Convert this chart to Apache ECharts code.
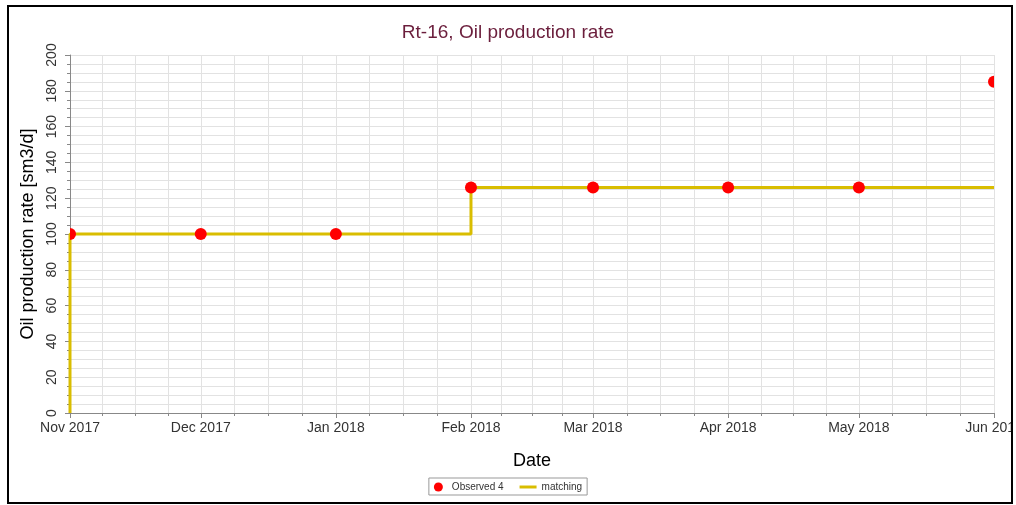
<!DOCTYPE html>
<html>
<head>
<meta charset="utf-8">
<script src="https://cdn.jsdelivr.net/npm/echarts@6/dist/echarts.min.js"></script>
<style>html,body{margin:0;padding:0;background:#fff}#c{width:1016px;height:505px}</style>
</head>
<body>
<div id="c"></div>
<script>
var observedDates = ['2017-11-01','2017-12-01','2018-01-01','2018-02-01','2018-03-01','2018-04-01','2018-05-01','2018-06-01'];
var observedValues = [100, 100, 100, 126, 126, 126, 126, 185];
var matchingDates = ['2017-11-01','2017-11-01','2018-02-01','2018-02-01','2018-06-01'];
var matchingValues = [0, 100, 100, 126, 126];
var monthNames = ['Jan','Feb','Mar','Apr','May','Jun','Jul','Aug','Sep','Oct','Nov','Dec'];

function pairs(d, v){ return d.map(function(x,i){ return [x, v[i]]; }); }

var chart = echarts.init(document.getElementById('c'));
var font = "'Liberation Sans', Arial, sans-serif";
chart.setOption({
  animation: false,
  textStyle: { fontFamily: font },
  title: {
    text: 'Rt-16, Oil production rate',
    left: 'center', top: 18,
    textStyle: { fontSize: 19, fontWeight: 'normal', color: '#6b1e3c', fontFamily: font }
  },
  grid: { left: 70, right: 22, top: 55, bottom: 92, containLabel: false, outerBoundsMode: 'none' },
  xAxis: {
    type: 'time',
    min: '2017-11-01', max: '2018-06-01',
    name: 'Date', nameLocation: 'middle', nameGap: 39,
    nameTextStyle: { fontSize: 18, color: '#000', fontFamily: font },
    axisLine: { lineStyle: { color: '#888', width: 1 } },
    axisTick: { show: true, length: 5, lineStyle: { color: '#888' } },
    minorTick: { show: true, splitNumber: 4, length: 3, lineStyle: { color: '#888' } },
    splitLine: { show: true, lineStyle: { color: '#e2e2e2', width: 1 } },
    minorSplitLine: { show: true, lineStyle: { color: '#e2e2e2', width: 1 } },
    axisLabel: {
      fontSize: 14, color: '#333', margin: 8, showMinLabel: true, showMaxLabel: true, hideOverlap: false,
      formatter: function(v){ var d = new Date(v); return monthNames[d.getMonth()] + ' ' + d.getFullYear(); }
    }
  },
  yAxis: {
    type: 'value', min: 0, max: 200, interval: 20,
    name: 'Oil production rate [sm3/d]', nameLocation: 'middle', nameGap: 31,
    nameTextStyle: { fontSize: 18, color: '#000', fontFamily: font },
    axisLine: { show: true, lineStyle: { color: '#888', width: 1 } },
    axisTick: { show: true, length: 5, lineStyle: { color: '#888' } },
    minorTick: { show: true, splitNumber: 4, length: 3, lineStyle: { color: '#888' } },
    splitLine: { show: true, lineStyle: { color: '#e2e2e2', width: 1 } },
    minorSplitLine: { show: true, lineStyle: { color: '#e2e2e2', width: 1 } },
    axisLabel: { fontSize: 14, color: '#333', rotate: 90, margin: 11 }
  },
  legend: {
    bottom: 10, left: 'center',
    borderColor: '#999', borderWidth: 1, padding: [4, 5, 3, 5],
    itemGap: 16, itemWidth: 17, itemHeight: 9,
    textStyle: { fontSize: 10, color: '#333', fontFamily: font },
    data: [
      { name: 'Observed 4', icon: 'circle', itemStyle: { color: '#ff0000' } },
      { name: 'matching', icon: 'path://M0,0 L20,0 L20,3.5 L0,3.5 Z', itemStyle: { color: '#d9bd00' } }
    ]
  },
  series: [
    {
      name: 'matching', type: 'line', data: pairs(matchingDates, matchingValues),
      symbol: 'none', lineStyle: { color: '#d9bd00', width: 3 }, itemStyle: { color: '#d9bd00' }, z: 2
    },
    {
      name: 'Observed 4', type: 'custom', data: pairs(observedDates, observedValues),
      encode: { x: 0, y: 1 }, clip: true, z: 3,
      itemStyle: { color: '#ff0000' },
      renderItem: function(params, api){
        var p = api.coord([api.value(0), api.value(1)]);
        return { type: 'circle', shape: { cx: p[0], cy: p[1], r: 6 }, style: { fill: '#ff0000' } };
      }
    }
  ],
  graphic: [
    { type: 'rect', z: 100, shape: { x: 1013, y: 0, width: 10, height: 505 }, style: { fill: '#fff' } },
    { type: 'rect', z: 101, shape: { x: 8, y: 6, width: 1004, height: 497 }, style: { fill: null, stroke: '#000', lineWidth: 2 } }
  ]
});
</script>
</body>
</html>
